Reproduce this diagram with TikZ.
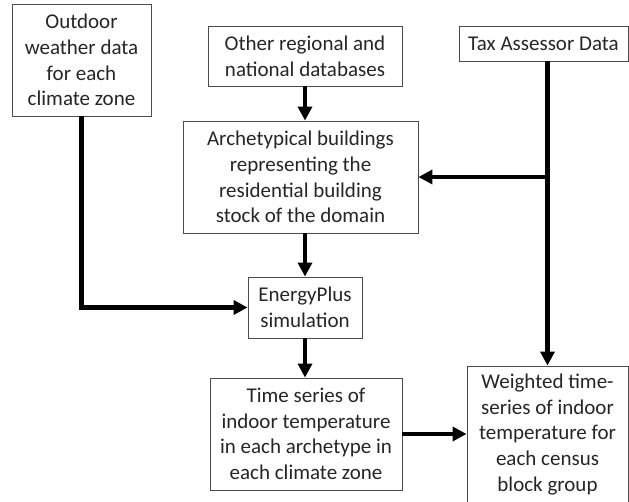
\documentclass[tikz,border=0pt]{standalone}
\usepackage{fontspec}
\setmainfont{Carlito}
\usetikzlibrary{arrows.meta}
\begin{document}
\begin{tikzpicture}[x=1pt,y=-1pt,
  box/.style={draw=black!70, line width=0.9pt, align=center, inner sep=0pt,
    font=\fontsize{21}{25.6}\selectfont, text=black!85},
  arr/.style={line width=4.2pt, -{Triangle[length=14pt,width=14pt]}},
  ln/.style={line width=4.2pt}]
\useasboundingbox (0,0) rectangle (629,502);
\fill[white] (0,0) rectangle (629,502);
\node[box, minimum width=139pt, minimum height=112pt] (out) at (81.5,60)
  {Outdoor\\weather data\\for each\\climate zone};
\node[box, minimum width=194pt, minimum height=60pt] (oth) at (305,56)
  {Other regional and\\national databases};
\node[box, minimum width=235pt, minimum height=112pt] (arch) at (300.5,177)
  {Archetypical buildings\\representing the\\residential building\\stock of the domain};
\node[box, minimum width=169pt, minimum height=35pt] (tax) at (543.5,43.5)
  {Tax Assessor Data};
\node[box, minimum width=114pt, minimum height=61pt] (ep) at (305,307.5)
  {EnergyPlus\\simulation};
\node[box, minimum width=192pt, minimum height=112pt] (ts) at (306,434)
  {Time series of\\indoor temperature\\in each archetype in\\each climate zone};
\node[box, minimum width=161pt, minimum height=137pt] (wt) at (547.5,434.5)
  {Weighted time-\\series of indoor\\temperature for\\each census\\block group};
\draw[arr] (oth.south) -- (oth.south |- arch.north);
\draw[arr] (ep.north |- arch.south) -- (ep.north);
\draw[arr] (ep.south) -- (ep.south |- ts.north);
\draw[arr] (out.south) |- (ep.west);
\draw[arr] (wt.north |- tax.south) -- (wt.north);
\coordinate (br) at (wt.north |- arch.east);
\draw[arr] (br) -- (arch.east);
\draw[arr] (ts.east) -- (ts.east -| wt.west);
\end{tikzpicture}
\end{document}
